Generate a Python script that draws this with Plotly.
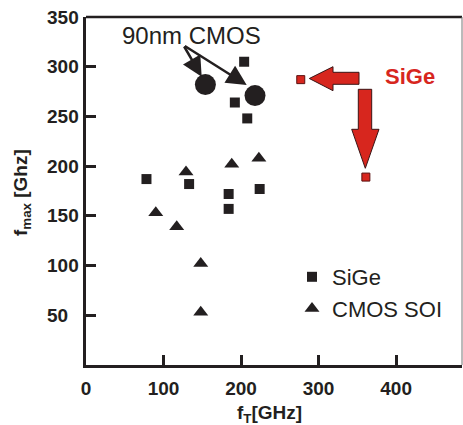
import plotly.graph_objects as go

# ---- data ----
sige_x = [78, 133, 184, 184, 224, 204, 192, 208]
sige_y = [187, 182, 172, 157, 177, 305, 264, 248]

soi_x = [129, 188, 223, 90, 117, 148, 148]
soi_y = [194, 202, 208, 153, 139, 102, 53]

cmos90_x = [154, 218]
cmos90_y = [282, 271]

sige_new_x = [277, 361]
sige_new_y = [287, 189]

x_ticks = [0, 100, 200, 300, 400]
y_ticks = [50, 100, 150, 200, 250, 300, 350]

BLACK = "#231f20"
RED = "#d7261e"
FONT = "Liberation Sans, Arial, sans-serif"

# plot geometry (pixels)
L, R, T, B = 86, 1, 17, 60
W, H = 463, 425
PW, PH = W - L - R, H - T - B
XMAX, YMAX = 485, 350


def px2d(px, py):
    return (px - L) / PW * XMAX, (H - B - py) / PH * YMAX


fig = go.Figure()
fig.add_trace(go.Scatter(x=sige_x, y=sige_y, mode="markers", name="SiGe",
                         marker=dict(symbol="square", size=10, color=BLACK)))
fig.add_trace(go.Scatter(x=soi_x, y=soi_y, mode="markers", name="CMOS SOI",
                         marker=dict(symbol="triangle-up", size=13, color=BLACK)))
fig.add_trace(go.Scatter(x=cmos90_x, y=cmos90_y, mode="markers", showlegend=False,
                         marker=dict(symbol="circle", size=21, color=BLACK)))
fig.add_trace(go.Scatter(x=sige_new_x, y=sige_new_y, mode="markers", showlegend=False,
                         marker=dict(symbol="square", size=8, color=RED,
                                     line=dict(color="#5a1010", width=1))))

# red block arrows
left_arrow = [(309.3, 78.5), (333, 66.7), (333, 72.3), (359, 72.3), (359, 84.3),
              (333, 84.3), (333, 90.7)]
down_arrow = [(358.3, 89.3), (371.7, 89.3), (371.7, 129.3), (379, 129.3),
              (365.3, 168.3), (351.7, 129.3), (358.3, 129.3)]
for pts in (left_arrow, down_arrow):
    d = [px2d(*p) for p in pts]
    path = "M " + " L ".join(f"{a:.2f},{b:.2f}" for a, b in d) + " Z"
    fig.add_shape(type="path", path=path, xref="x", yref="y",
                  fillcolor=RED, line=dict(color="#3a1515", width=1))

# frame: top thick, right thin
fig.add_shape(type="line", xref="paper", yref="paper", x0=0, x1=1, y0=1, y1=1,
              line=dict(color=BLACK, width=2.5))
fig.add_shape(type="line", xref="paper", yref="paper", x0=1, x1=1, y0=0, y1=1,
              line=dict(color="#777777", width=1))

ann = []
# 90nm CMOS text and arrows
tx, ty = px2d(191, 35)
ann.append(dict(x=tx, y=ty, xref="x", yref="y", text="90nm CMOS", showarrow=False,
                xanchor="center", yanchor="middle",
                font=dict(family=FONT, size=24, color=BLACK)))
tail = px2d(183.3, 45)
for tip in (px2d(201.7, 76.7), px2d(246.7, 85)):
    ann.append(dict(x=tip[0], y=tip[1], ax=tail[0], ay=tail[1], xref="x", yref="y",
                    axref="x", ayref="y", text="", showarrow=True, arrowhead=2,
                    arrowsize=1.6, arrowwidth=2.5, arrowcolor=BLACK, standoff=0))
# SiGe red label
sx, sy = px2d(410, 76)
ann.append(dict(x=sx, y=sy, xref="x", yref="y", text="<b>SiGe</b>", showarrow=False,
                xanchor="center", yanchor="middle",
                font=dict(family=FONT, size=22, color=RED)))
# y tick labels (left aligned)
for v in y_ticks:
    ann.append(dict(x=(45 - L) / PW, y=v, xref="paper", yref="y", text=f"<b>{v}</b>",
                    showarrow=False, xanchor="left", yanchor="middle",
                    font=dict(family=FONT, size=19, color=BLACK)))
# axis titles
ann.append(dict(x=(22 - L) / PW, y=(H - B - 193) / PH, xref="paper", yref="paper",
                text="<b>f<sub>max</sub> [Ghz]</b>", showarrow=False, textangle=-90,
                xanchor="center", yanchor="middle",
                font=dict(family=FONT, size=19, color=BLACK)))
ann.append(dict(x=(269 - L) / PW, y=(H - B - 414) / PH, xref="paper", yref="paper",
                text="<b>f<sub>T</sub>[GHz]</b>", showarrow=False,
                xanchor="center", yanchor="middle",
                font=dict(family=FONT, size=19, color=BLACK)))

fig.update_layout(
    width=W, height=H,
    margin=dict(l=L, r=R, t=T, b=B),
    paper_bgcolor="white", plot_bgcolor="white",
    annotations=ann,
    showlegend=True,
    legend=dict(x=(292 - L) / PW, y=(H - B - 256) / PH, xanchor="left", yanchor="top",
                bgcolor="rgba(0,0,0,0)", font=dict(family=FONT, size=22, color=BLACK),
                tracegroupgap=0, itemsizing="trace"),
    xaxis=dict(range=[0, XMAX], showgrid=False, zeroline=False, showline=True,
               linecolor=BLACK, linewidth=3, ticks="inside", ticklen=10, tickwidth=3,
               tickcolor=BLACK, tickvals=x_ticks, ticktext=[f"<b>{v}</b>" for v in x_ticks],
               tickfont=dict(family=FONT, size=19, color=BLACK), ticklabelstandoff=4),
    yaxis=dict(range=[0, YMAX], showgrid=False, zeroline=False, showline=True,
               linecolor=BLACK, linewidth=3, ticks="inside", ticklen=10, tickwidth=3,
               tickcolor=BLACK, tickvals=y_ticks, showticklabels=False),
)

fig.write_html("out.html")
